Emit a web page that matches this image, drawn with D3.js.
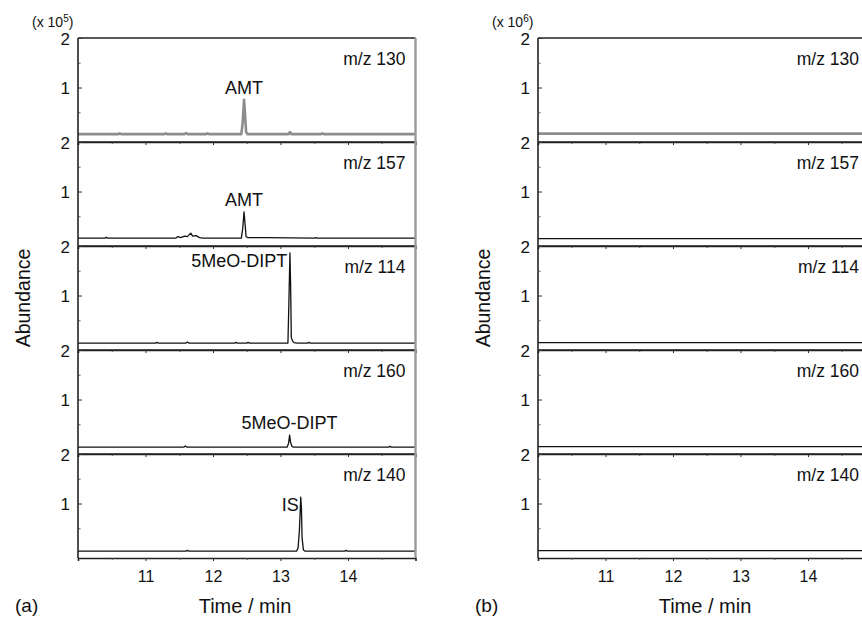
<!DOCTYPE html>
<html><head><meta charset="utf-8">
<script src="https://cdn.jsdelivr.net/npm/d3@7"></script>
<style>
html,body{margin:0;padding:0;background:#fff;}
svg{display:block;font-family:"Liberation Sans",Arial,sans-serif;}
</style></head>
<body>
<svg id="chart" width="862" height="621"></svg>
<script>
// ---------- data ----------
const ionLabels = ["m/z 130", "m/z 157", "m/z 114", "m/z 160", "m/z 140"];
const xTickValues = [11, 12, 13, 14];
const xMinorValues = [10.5, 11.5, 12.5, 13.5, 14.5];
const yTickValues = [1, 2];
const yMinorValues = [0.5, 1.5];
const panelNames = ["(a)", "(b)"];
const scaleLabels = ["(x 10", "(x 10"];
const scaleExponents = ["5", "6"];

// panel (a) traces: [time (min), abundance]
const traceA130 = [[10.0,0.06],[10.6,0.06],[10.62,0.075],[10.64,0.06],[11.0,0.06],[11.28,0.06],[11.3,0.075],[11.32,0.06],
  [11.58,0.06],[11.6,0.08],[11.62,0.06],[11.9,0.06],[11.92,0.075],[11.94,0.06],[12.42,0.06],[12.44,0.3],[12.46,0.75],
  [12.475,0.45],[12.49,0.1],[12.51,0.06],[13.12,0.06],[13.14,0.1],[13.16,0.06],[13.6,0.06],[13.62,0.075],[13.64,0.06],[15.0,0.06]];
const traceA157 = [[10.0,0.06],[10.4,0.06],[10.42,0.075],[10.44,0.06],[11.45,0.06],[11.48,0.09],[11.52,0.07],[11.58,0.1],
  [11.62,0.09],[11.67,0.16],[11.7,0.1],[11.75,0.11],[11.8,0.07],[11.85,0.06],[12.42,0.06],[12.44,0.25],[12.46,0.59],
  [12.475,0.35],[12.49,0.09],[12.51,0.07],[12.8,0.07],[13.5,0.06],[13.52,0.07],[13.54,0.06],[15.0,0.06]];
const traceA114 = [[10.0,0.04],[11.15,0.04],[11.17,0.055],[11.19,0.04],[11.6,0.04],[11.62,0.06],[11.64,0.04],[12.32,0.04],
  [12.34,0.055],[12.36,0.04],[12.5,0.04],[12.52,0.055],[12.54,0.04],[13.11,0.04],[13.125,0.9],[13.14,1.86],[13.15,1.2],
  [13.16,0.15],[13.18,0.08],[13.2,0.05],[13.25,0.04],[13.4,0.04],[13.42,0.055],[13.44,0.04],[15.0,0.04]];
const traceA160 = [[10.0,0.04],[11.57,0.04],[11.59,0.06],[11.61,0.04],[13.1,0.04],[13.12,0.12],[13.135,0.28],
  [13.15,0.13],[13.17,0.05],[13.2,0.04],[14.6,0.04],[14.62,0.055],[14.64,0.04],[15.0,0.04]];
const traceA140 = [[10.0,0.04],[11.6,0.04],[11.62,0.055],[11.64,0.04],[12.3,0.04],[13.24,0.04],[13.26,0.1],[13.28,0.45],
  [13.3,1.13],[13.31,0.9],[13.32,0.3],[13.34,0.06],[13.36,0.04],[13.95,0.04],[13.97,0.055],[13.99,0.04],[15.0,0.04]];

// panel (b) traces: flat baselines
const traceB130 = [[10.0,0.07],[15.0,0.07]];
const traceB157 = [[10.0,0.05],[15.0,0.05]];
const traceB114 = [[10.0,0.05],[15.0,0.05]];
const traceB160 = [[10.0,0.05],[15.0,0.05]];
const traceB140 = [[10.0,0.05],[15.0,0.05]];

// peak annotations panel (a): [panel index, time, abundance, text, anchor]
const peakLabels = [[0, 12.46, 0.75, "AMT", "middle"], [1, 12.46, 0.59, "AMT", "middle"],
  [2, 13.1, 1.86, "5MeO-DIPT", "end"], [3, 13.135, 0.28, "5MeO-DIPT", "middle"], [4, 13.27, 1.13, "IS", "end"]];

const tracesA = [traceA130, traceA157, traceA114, traceA160, traceA140];
const tracesB = [traceB130, traceB157, traceB114, traceB160, traceB140];

// ---------- drawing ----------
const svg = d3.select("#chart");
const W = 862;
const top0 = 38, panelH = 104;
const blocks = [
  {left: 78, traces: tracesA, peaks: peakLabels},
  {left: 538, traces: tracesB, peaks: []}
];
const plotW = 337.5;

blocks.forEach((b, bi) => {
  const g = svg.append("g");
  const x = d3.scaleLinear().domain([10, 15]).range([b.left, b.left + plotW]);
  const bottom = top0 + panelH * 5;

  b.traces.forEach((tr, i) => {
    const pt = top0 + i * panelH;
    const y = d3.scaleLinear().domain([-0.1, 2]).range([pt + panelH, pt]);
    const pg = g.append("g");

    // trace
    const line = d3.line().x(d => x(d[0])).y(d => y(d[1]));
    pg.append("path").datum(tr).attr("d", line).attr("fill", "none")
      .attr("stroke", i === 0 ? "#8c8c8c" : "#111")
      .attr("stroke-width", i === 0 ? 2.6 : 1.3)
      .attr("stroke-linejoin", "round");

    // top line
    pg.append("line").attr("x1", b.left).attr("x2", b.left + plotW)
      .attr("y1", pt).attr("y2", pt).attr("stroke", "#222").attr("stroke-width", 1.6);

    // x axis at panel bottom
    const xa = pg.append("g").attr("transform", `translate(0,${pt + panelH})`)
      .call(d3.axisBottom(x).tickValues(xTickValues).tickSize(3).tickFormat(i === 4 ? d3.format("d") : ""));
    xa.select(".domain").attr("stroke", "#222").attr("stroke-width", 1.6);
    xa.selectAll(".tick line").attr("stroke", "#333");
    xa.selectAll(".tick text").attr("font-size", 16).attr("fill", "#111").attr("dy", "1.1em");
    const xm = pg.append("g").attr("transform", `translate(0,${pt + panelH})`)
      .call(d3.axisBottom(x).tickValues(xMinorValues).tickSize(2).tickFormat(""));
    xm.select(".domain").remove();
    xm.selectAll(".tick line").attr("stroke", "#555");

    // y axis
    const ya = pg.append("g").attr("transform", `translate(${b.left},0)`)
      .call(d3.axisLeft(y).tickValues(yTickValues).tickSize(-4).tickPadding(8).tickFormat(d3.format("d")));
    ya.select(".domain").attr("d", `M0,${pt}V${pt + panelH}`).attr("stroke", "#222").attr("stroke-width", 1.6);
    ya.selectAll(".tick line").attr("stroke", "#333");
    ya.selectAll(".tick text").attr("font-size", 17).attr("fill", "#111").attr("dy", "0.36em");
    const ym = pg.append("g").attr("transform", `translate(${b.left},0)`)
      .call(d3.axisLeft(y).tickValues(yMinorValues).tickSize(-2.5).tickFormat(""));
    ym.select(".domain").remove();
    ym.selectAll(".tick line").attr("stroke", "#555");

    // ion label (kept inside the window)
    pg.append("text").attr("x", Math.min(b.left + plotW - 10, W - 3)).attr("y", pt + 27)
      .attr("text-anchor", "end").attr("font-size", 17.5).attr("fill", "#111").text(ionLabels[i]);
  });

  // peak labels
  b.peaks.forEach(p => {
    const pt = top0 + p[0] * panelH;
    const y = d3.scaleLinear().domain([-0.1, 2]).range([pt + panelH, pt]);
    g.append("text").attr("x", x(p[1])).attr("y", y(p[2]) - (p[4] === "end" ? -14 : 6))
      .attr("text-anchor", p[4]).attr("font-size", 18).attr("fill", "#111").text(p[3]);
  });

  // right border
  g.append("line").attr("x1", b.left + plotW).attr("x2", b.left + plotW)
    .attr("y1", top0).attr("y2", bottom).attr("stroke", "#9a9a9a").attr("stroke-width", 2.4);

  // scale label
  const st = g.append("text").attr("x", b.left - 46).attr("y", 27).attr("font-size", 14).attr("fill", "#111");
  st.append("tspan").text(scaleLabels[bi]);
  st.append("tspan").attr("font-size", 10).attr("dy", -5).text(scaleExponents[bi]);
  st.append("tspan").attr("dy", 5).text(")");

  // y title
  g.append("text").attr("transform", `translate(${b.left - 48},${top0 + panelH * 2.5}) rotate(-90)`)
    .attr("text-anchor", "middle").attr("font-size", 19.5).attr("fill", "#111").text("Abundance");

  // x title
  g.append("text").attr("x", b.left + 167).attr("y", 613).attr("text-anchor", "middle")
    .attr("font-size", 20).attr("fill", "#111").text("Time / min");

  // panel name
  g.append("text").attr("x", b.left - 63).attr("y", 612).attr("font-size", 19).attr("fill", "#111").text(panelNames[bi]);
});
</script>
</body></html>
